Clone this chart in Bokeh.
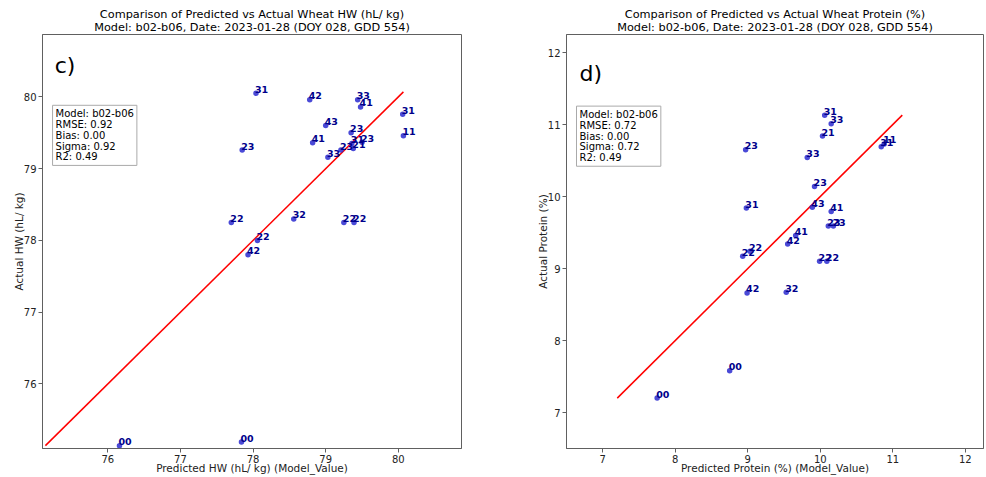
from bokeh.plotting import figure
from bokeh.models import Range1d, FixedTicker, Label, Title, ColumnDataSource
from bokeh.layouts import row
from bokeh.embed import file_html
from bokeh.resources import INLINE
from bokeh.core.properties import value

FONT = "DejaVu Sans"

# ---------------- data: HW (hL/kg) ----------------
hw_labels = ["31", "42", "33", "41", "31", "43", "23", "31", "23", "21", "23", "41",
             "33", "23", "11", "22", "32", "22", "22", "22", "42", "00", "00"]
hw_pred = [78.04, 78.78, 79.44, 79.48, 80.06, 79.00, 79.35, 79.36, 79.50, 79.38, 79.21, 78.82,
           79.03, 77.85, 80.07, 77.70, 78.56, 79.25, 79.39, 78.06, 77.93, 76.16, 77.84]
hw_actual = [80.05, 79.96, 79.96, 79.86, 79.76, 79.60, 79.50, 79.35, 79.37, 79.28, 79.26, 79.36,
             79.16, 79.26, 79.46, 78.25, 78.30, 78.25, 78.25, 78.00, 77.80, 75.14, 75.19]
hw_stats = "Model: b02-b06\nRMSE: 0.92\nBias: 0.00\nSigma: 0.92\nR2: 0.49"
hw_ticks = [76, 77, 78, 79, 80]
hw_range = (75.10, 80.87)

# ---------------- data: Protein (%) ----------------
pr_labels = ["31", "33", "21", "23", "33", "11", "31", "23", "31", "43", "41", "23",
             "23", "41", "42", "22", "22", "22", "22", "42", "32", "00", "00"]
pr_pred = [10.06, 10.15, 10.03, 8.97, 9.82, 10.88, 10.84, 9.92, 8.98, 9.89, 10.15, 10.11,
           10.18, 9.66, 9.55, 9.03, 8.93, 9.99, 10.09, 8.99, 9.53, 8.75, 7.75]
pr_actual = [11.13, 11.01, 10.84, 10.65, 10.54, 10.73, 10.69, 10.14, 9.84, 9.85, 9.79, 9.59,
             9.59, 9.46, 9.34, 9.24, 9.17, 9.10, 9.10, 8.66, 8.67, 7.58, 7.20]
pr_stats = "Model: b02-b06\nRMSE: 0.72\nBias: 0.00\nSigma: 0.72\nR2: 0.49"
pr_ticks = [7, 8, 9, 10, 11, 12]
pr_range = (6.50, 12.25)


def make_panel(title1, title2, xlabel, ylabel, labels, pred, actual, stats, ticks, rng,
               letter, borders, letter_pos, stats_pos):
    bl, br, bt, bb = borders
    p = figure(width=493, height=477, output_backend="svg", toolbar_location=None,
               x_range=Range1d(*rng), y_range=Range1d(*rng),
               min_border_left=bl, min_border_right=br, min_border_top=bt, min_border_bottom=bb)
    p.title.text = ""
    p.title.visible = False
    t2 = Title(text=title2, align="center", text_font=FONT, text_font_size="11.3px",
               text_font_style="normal", text_color="#000000", standoff=1, offset=0)
    t1 = Title(text=title1, align="center", text_font=FONT, text_font_size="11.3px",
               text_font_style="normal", text_color="#000000", standoff=-5, offset=0)
    p.add_layout(t2, "above")
    p.add_layout(t1, "above")

    p.xgrid.visible = False
    p.ygrid.visible = False
    p.outline_line_color = "#606060"
    p.outline_line_width = 1
    for ax in (p.xaxis[0], p.yaxis[0]):
        ax.ticker = FixedTicker(ticks=ticks)
        ax.minor_tick_line_color = None
        ax.major_tick_in = 0
        ax.major_tick_out = 4
        ax.major_tick_line_color = "#606060"
        ax.axis_line_color = "#606060"
        ax.major_label_text_font = FONT
        ax.major_label_text_font_size = "10px"
        ax.major_label_text_color = "#222222"
        ax.major_label_standoff = 2
        ax.axis_label_text_font = FONT
        ax.axis_label_text_font_size = "10.5px"
        ax.axis_label_text_font_style = "normal"
        ax.axis_label_text_color = "#222222"
        ax.axis_label_standoff = 3
    p.yaxis[0].axis_label_standoff = -4
    p.xaxis[0].major_label_standoff = 2
    p.xaxis[0].axis_label_standoff = -4
    p.xaxis.axis_label = xlabel
    p.yaxis.axis_label = ylabel

    lo = min(min(pred), min(actual))
    hi = max(max(pred), max(actual))
    p.line([lo, hi], [lo, hi], line_color="#ff0000", line_width=1.5)

    src = ColumnDataSource(dict(x=pred, y=actual, t=labels))
    p.scatter("x", "y", source=src, size=5.5, fill_color="#2a2ad0", line_color=None,
              fill_alpha=0.85)
    p.text("x", "y", text="t", source=src, x_offset=-1, y_offset=-4,
           text_font=value(FONT), text_font_size="9.5px", text_font_style="bold",
           text_color="#00008b", text_align="left", text_baseline="middle")

    span = rng[1] - rng[0]
    p.add_layout(Label(x=rng[0] + letter_pos[0] * span, y=rng[1] - letter_pos[1] * span,
                       text=letter, text_font=FONT, text_font_size="22px",
                       text_color="#000000", text_align="left", text_baseline="middle"))
    p.add_layout(Label(x=rng[0] + stats_pos[0] * span, y=rng[1] - stats_pos[1] * span,
                       text=stats, text_font=FONT, text_font_size="10px",
                       text_color="#000000", text_align="left", text_baseline="top",
                       text_line_height=0.98, padding=3,
                       border_line_color="#aaaaaa", border_line_width=1,
                       background_fill_color="#ffffff", background_fill_alpha=1.0))
    return p


p1 = make_panel("Comparison of Predicted vs Actual Wheat HW (hL/ kg)",
                "Model: b02-b06, Date: 2023-01-28 (DOY 028, GDD 554)",
                "Predicted HW (hL/ kg) (Model_Value)", "Actual HW (hL/ kg)",
                hw_labels, hw_pred, hw_actual, hw_stats, hw_ticks, hw_range,
                "c)", (42, 32, 34, 29), (0.029, 0.075), (0.024, 0.171))
p2 = make_panel("Comparison of Predicted vs Actual Wheat Protein (%)",
                "Model: b02-b06, Date: 2023-01-28 (DOY 028, GDD 554)",
                "Predicted Protein (%) (Model_Value)", "Actual Protein (%)",
                pr_labels, pr_pred, pr_actual, pr_stats, pr_ticks, pr_range,
                "d)", (73, 3, 34, 28), (0.031, 0.094), (0.024, 0.173))

layout = row(p1, p2, spacing=0)
open("out.html", "w").write(file_html(layout, INLINE))
